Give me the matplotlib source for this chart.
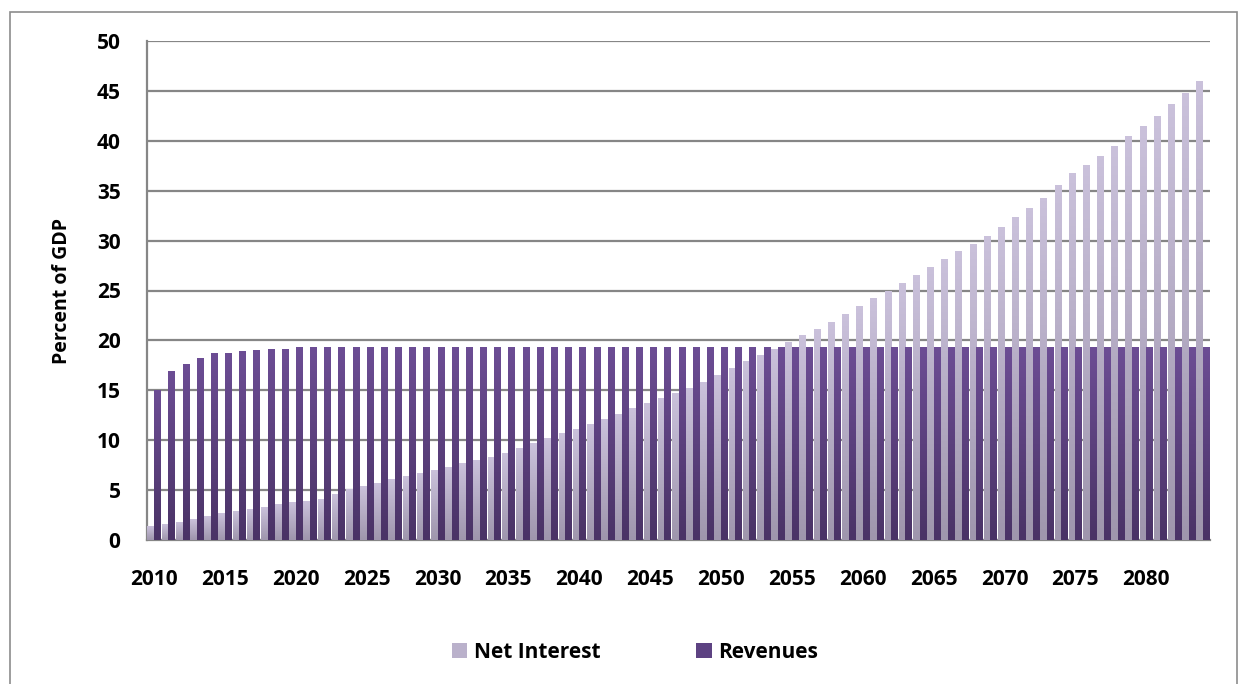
import numpy as np
import matplotlib
matplotlib.use("Agg")
import matplotlib.pyplot as plt
import matplotlib.patches as patches
from matplotlib.colors import LinearSegmentedColormap

# Chart data
years = list(range(2010, 2085))
net_interest = [
    1.4, 1.6, 1.8, 2.1, 2.4, 2.7, 2.9, 3.1, 3.3, 3.6,
    3.8, 3.9, 4.1, 4.6, 5.1, 5.4, 5.7, 6.1, 6.4, 6.7,
    7.0, 7.3, 7.7, 8.0, 8.3, 8.7, 9.2, 9.7, 10.2, 10.7,
    11.1, 11.6, 12.1, 12.6, 13.2, 13.7, 14.2, 14.7, 15.2, 15.8,
    16.5, 17.2, 17.9, 18.5, 19.1, 19.8, 20.5, 21.1, 21.8, 22.6,
    23.4, 24.2, 25.0, 25.8, 26.6, 27.4, 28.2, 29.0, 29.7, 30.5,
    31.4, 32.4, 33.3, 34.3, 35.6, 36.8, 37.6, 38.5, 39.5, 40.5,
    41.5, 42.5, 43.7, 44.8, 46.0,
]
revenues = [
    15.0, 16.9, 17.6, 18.2, 18.7, 18.7, 18.9, 19.0, 19.1, 19.1,
] + [19.3] * 65
series_names = ["Net Interest", "Revenues"]
tick_years = list(range(2010, 2085, 5))

FONT = ["Open Sans", "DejaVu Sans"]
light_cmap = LinearSegmentedColormap.from_list("light", ["#9f96ad", "#cac1db"])
dark_cmap = LinearSegmentedColormap.from_list("dark", ["#4a3366", "#6c4d94"])

fig = plt.figure(figsize=(12.47, 6.84), dpi=100)
fig.patch.set_facecolor("white")
ax = fig.add_axes([147 / 1247, 1 - 540 / 684, (1210 - 147) / 1247, (540 - 41) / 684])

# outer chart border
fig.patches.append(patches.Rectangle((10 / 1247, -0.05), (1237 - 10) / 1247, 1.05 - 12 / 684,
                                     transform=fig.transFigure, fill=False,
                                     edgecolor="#8c8c8c", linewidth=1.2))

x = np.arange(len(years))
bw = 0.46
grad = np.linspace(0, 1, 64).reshape(-1, 1)


# bar with a vertical gradient (bottom dark, top light)
def gradient_bar(xc, h, cmap):
    rect = patches.Rectangle((xc - bw / 2, 0), bw, h, facecolor="none", edgecolor="none")
    ax.add_patch(rect)
    im = ax.imshow(grad, extent=[xc - bw / 2, xc + bw / 2, 0, h], origin="lower",
                   aspect="auto", cmap=cmap, zorder=3, interpolation="bilinear")
    im.set_clip_path(rect)


for i in x:
    gradient_bar(i - 0.235, net_interest[i], light_cmap)
    gradient_bar(i + 0.235, revenues[i], dark_cmap)

ax.set_xlim(-0.5, len(years) - 0.5)
ax.set_ylim(0, 50)
ax.set_yticks(range(0, 55, 5))
ax.grid(axis="y", color="#868686", linewidth=1.6, zorder=0)
ax.set_axisbelow(True)

ax.set_xticks([years.index(y) for y in tick_years])
ax.set_xticklabels([str(y) for y in tick_years])
ax.tick_params(axis="both", length=0, labelsize=15)
ax.tick_params(axis="y", pad=19)
ax.tick_params(axis="x", pad=21)
for lab in ax.get_xticklabels() + ax.get_yticklabels():
    lab.set_fontweight("bold")
    lab.set_family(FONT)

for side in ["top", "right"]:
    ax.spines[side].set_visible(False)
for side in ["left", "bottom"]:
    ax.spines[side].set_color("#868686")
    ax.spines[side].set_linewidth(1.6)

ax.set_ylabel("Percent of GDP", fontsize=14, fontweight="bold", family=FONT)
ax.yaxis.set_label_coords(-0.071, 0.5)

handles = [patches.Patch(facecolor="#bab1cb"), patches.Patch(facecolor="#5d4282")]
fig.legend(handles, series_names, loc="center", bbox_to_anchor=(0.509, 1 - 652 / 684),
           ncol=2, frameon=False, handlelength=0.75, handleheight=0.75, handletextpad=0.3,
           columnspacing=4.6, prop={"family": FONT, "weight": "bold", "size": 15})

fig.savefig("out.png", dpi=100, facecolor="white")
